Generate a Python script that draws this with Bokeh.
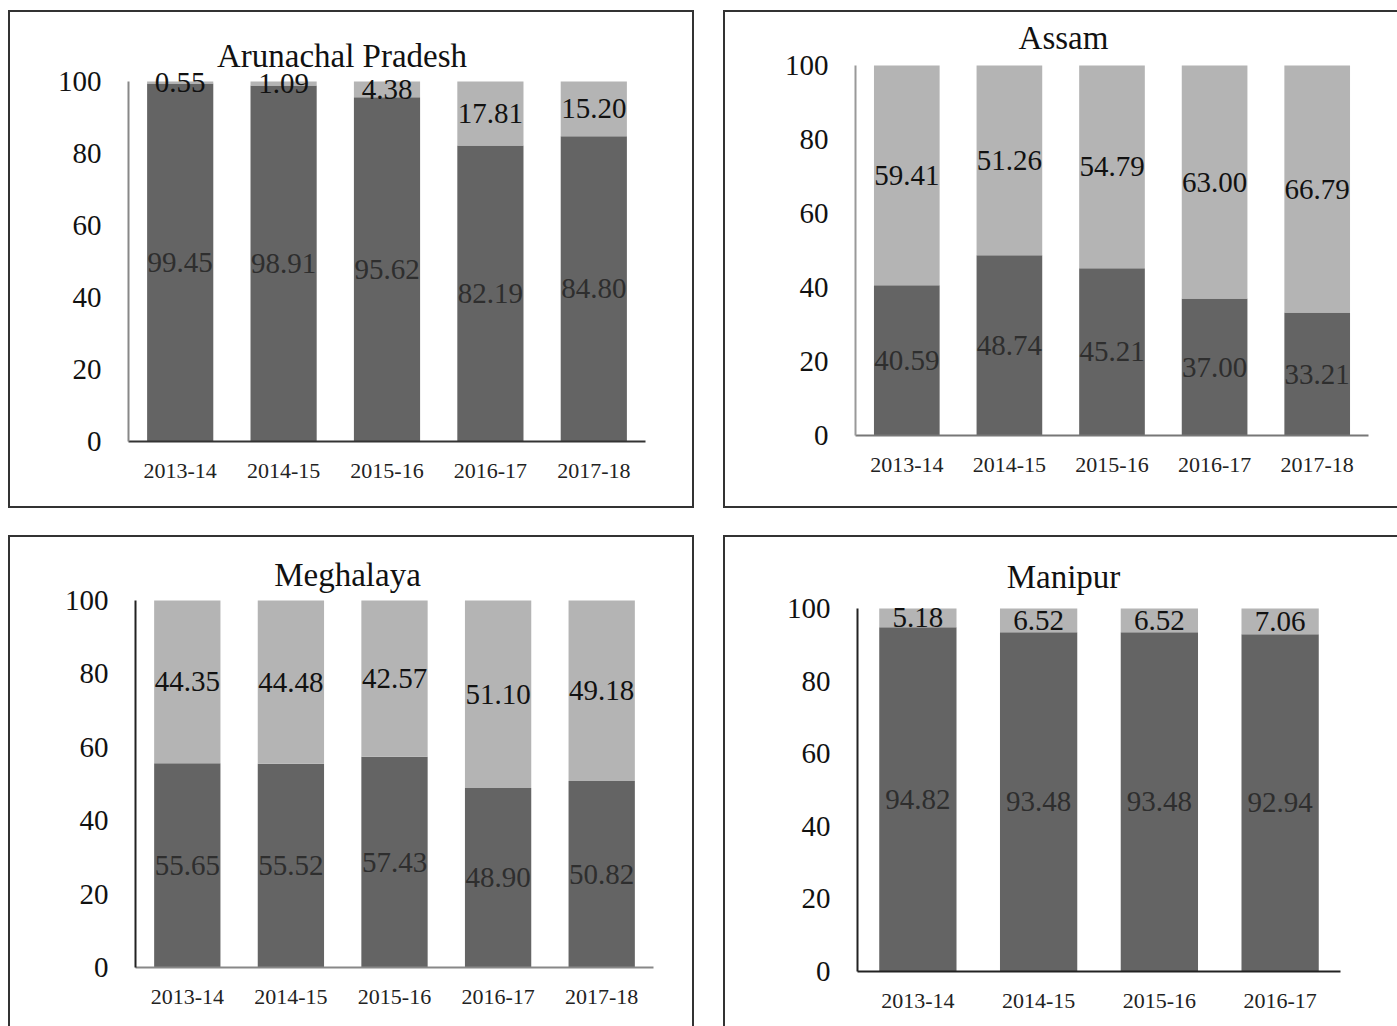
from bokeh.plotting import figure
from bokeh.models import ColumnDataSource, FixedTicker, LabelSet, Label, Range1d
from bokeh.core.properties import value
from bokeh.embed import file_html
from bokeh.resources import INLINE

# ---- data -------------------------------------------------------------
years5 = ["2013-14", "2014-15", "2015-16", "2016-17", "2017-18"]
years4 = ["2013-14", "2014-15", "2015-16", "2016-17"]

arunachal_dark = [99.45, 98.91, 95.62, 82.19, 84.80]
arunachal_light = [0.55, 1.09, 4.38, 17.81, 15.20]

assam_dark = [40.59, 48.74, 45.21, 37.00, 33.21]
assam_light = [59.41, 51.26, 54.79, 63.00, 66.79]

meghalaya_dark = [55.65, 55.52, 57.43, 48.90, 50.82]
meghalaya_light = [44.35, 44.48, 42.57, 51.10, 49.18]

manipur_dark = [94.82, 93.48, 93.48, 92.94]
manipur_light = [5.18, 6.52, 6.52, 7.06]

y_ticks = [0, 20, 40, 60, 80, 100]

# ---- style ------------------------------------------------------------
FONT = "Liberation Serif"
DARK = "#646464"
LIGHT = "#b4b4b4"
BOX = "2px solid #333333"
BW = 2  # box border width in px


def panel(name, cats, dark, light, host, sides, frame_x, zero_y, full_y,
          title_at, axis_colors):
    """host: (left, top, content_w, content_h) on the page.
    frame_x: (left, right) page x of the plotting area.
    zero_y / full_y: page y of the 0 and 100 gridlines.
    title_at: page (x, y) of the title centre."""
    hx, hy, cw, ch = host
    ox = hx + (BW if "left" in sides else 0)
    oy = hy + (BW if "top" in sides else 0)
    fx0, fx1 = frame_x
    top_pad = 2
    frame_top = oy + top_pad
    fh = zero_y - frame_top
    px_per_unit = (zero_y - full_y) / 100.0
    y_end = fh / px_per_unit
    n = len(cats)
    px_per_cat = (fx1 - fx0) / n

    p = figure(x_range=cats, y_range=Range1d(0, y_end),
               frame_width=fx1 - fx0, frame_height=fh,
               min_border_left=fx0 - ox, min_border_right=ox + cw - fx1,
               min_border_top=top_pad, min_border_bottom=oy + ch - zero_y,
               output_backend="svg", toolbar_location=None,
               background_fill_color="white", border_fill_color="white")
    p.title.visible = False
    p.outline_line_color = None
    p.grid.visible = False

    src = ColumnDataSource(dict(
        cat=cats,
        dark=dark,
        top=[d + l for d, l in zip(dark, light)],
        dark_mid=[d / 2 for d in dark],
        light_mid=[d + l / 2 for d, l in zip(dark, light)],
        dark_txt=[f"{d:.2f}" for d in dark],
        light_txt=[f"{l:.2f}" for l in light],
    ))

    p.vbar(x="cat", bottom=0, top="dark", width=0.64, source=src,
           fill_color=DARK, line_color=None)
    p.vbar(x="cat", bottom="dark", top="top", width=0.64, source=src,
           fill_color=LIGHT, line_color=None)

    p.add_layout(LabelSet(x="cat", y="dark_mid", text="dark_txt", source=src,
                          text_align="center", text_baseline="middle",
                          text_font=value(FONT), text_font_size=value("29px"),
                          text_color="#2e2e2e"))
    p.add_layout(LabelSet(x="cat", y="light_mid", text="light_txt", source=src,
                          text_align="center", text_baseline="middle",
                          text_font=value(FONT), text_font_size=value("29px"),
                          text_color="#111111"))

    tx = (title_at[0] - fx0) / px_per_cat
    ty = (zero_y - title_at[1]) / px_per_unit
    p.add_layout(Label(x=tx, y=ty, text=name,
                       text_align="center", text_baseline="middle",
                       text_font=FONT, text_font_size="33px",
                       text_color="#111111"))

    xa, ya = p.xaxis[0], p.yaxis[0]
    xa.axis_line_color = axis_colors[0]
    xa.axis_line_width = 2
    xa.major_tick_line_color = None
    xa.minor_tick_line_color = None
    xa.major_label_standoff = 16
    xa.major_label_text_font = FONT
    xa.major_label_text_font_size = "22px"
    xa.major_label_text_color = "#222222"

    ya.ticker = FixedTicker(ticks=y_ticks)
    ya.bounds = (0, 100)
    ya.axis_line_color = axis_colors[1]
    ya.axis_line_width = 2
    ya.major_tick_line_color = None
    ya.minor_tick_line_color = None
    ya.major_label_standoff = 21
    ya.major_label_text_font = FONT
    ya.major_label_text_font_size = "29px"
    ya.major_label_text_color = "#111111"

    styles = {"position": "absolute", "left": f"{hx}px", "top": f"{hy}px"}
    for s in sides:
        styles[f"border-{s}"] = BOX
    p.styles = styles
    return p


p1 = panel("Arunachal Pradesh", years5, arunachal_dark, arunachal_light,
           (8, 10, 682, 494), ("left", "top", "right", "bottom"),
           (128, 645), 441, 81, (341.5, 55), ("#333333", "#888888"))
p2 = panel("Assam", years5, assam_dark, assam_light,
           (723, 10, 672, 494), ("left", "top", "bottom"),
           (855, 1368), 435, 65, (1063, 37), ("#777777", "#999999"))
p3 = panel("Meghalaya", years5, meghalaya_dark, meghalaya_light,
           (8, 535, 682, 489), ("left", "top", "right"),
           (135, 653), 967, 600, (347, 574), ("#888888", "#222222"))
p4 = panel("Manipur", years4, manipur_dark, manipur_light,
           (723, 535, 672, 489), ("left", "top"),
           (857, 1340), 971, 608, (1063, 576), ("#222222", "#222222"))

open("out.html", "w").write(file_html([p1, p2, p3, p4], INLINE))
